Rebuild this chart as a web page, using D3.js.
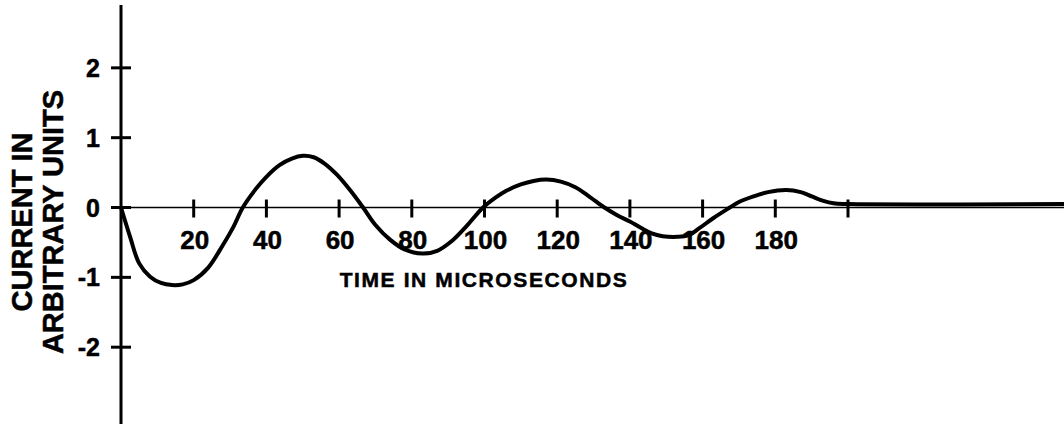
<!DOCTYPE html>
<html>
<head>
    <meta charset="utf-8">
    <style>
        body { margin: 0; background: #fff; }
        svg { display: block; font-family: 'Liberation Sans', Arial, sans-serif; font-weight: bold; }
        text { stroke: #000; stroke-width: 0.5px; }
    </style>
    <title>Current vs time</title>
</head>
<body>
    <svg width="1064" height="424"></svg>
<script src="https://d3js.org/d3.v7.min.js"></script>
<script>
    // time in microseconds, current in arbitrary units
    const times = [0, 2.5, 5, 8, 11, 14, 17, 20, 24, 28, 31, 33.5,
        37, 40, 43.7, 47, 50, 53, 56, 59.4, 63, 66.6,
        70, 74, 78, 83, 87, 91, 95, 99.6,
        103, 106, 110, 113.5, 117, 121, 125, 129, 133,
        136.5, 140, 143, 146, 149, 153, 156, 159, 163, 167.5,
        170, 174, 178, 183, 187, 190, 193, 196, 200, 259.5]
    const current = [0, -0.42, -0.8, -0.99, -1.08, -1.11, -1.1, -1.04, -0.86, -0.54, -0.27, 0,
        0.26, 0.44, 0.61, 0.7, 0.74, 0.72, 0.63, 0.47, 0.25, 0,
        -0.25, -0.46, -0.6, -0.66, -0.62, -0.48, -0.27, 0,
        0.14, 0.24, 0.33, 0.38, 0.4, 0.37, 0.29, 0.15, 0,
        -0.11, -0.2, -0.29, -0.37, -0.41, -0.42, -0.4, -0.3, -0.15, 0,
        0.08, 0.16, 0.22, 0.25, 0.22, 0.16, 0.1, 0.06, 0.05, 0.05]

    const xTicks = [20, 40, 60, 80, 100, 120, 140, 160, 180, 200]
    const xTickLabels = ['20', '40', '60', '80', '100', '120', '140', '160', '180', '']
    const yTicks = [-2, -1, 0, 1, 2]
    const yTickLabels = ['-2', '-1', '0', '1', '2']

    const width = 1064
    const height = 424
    const svg = d3.select('svg')

    const x = d3.scaleLinear().domain([0, 200]).range([121, 848])
    const y = d3.scaleLinear().domain([-3.1, 2.9]).range([424, 5])

    // horizontal axis line
    svg.append('line')
        .attr('x1', x(0)).attr('x2', width)
        .attr('y1', y(0)).attr('y2', y(0))
        .attr('stroke', '#000').attr('stroke-width', 1.6)

    // vertical axis line
    svg.append('line')
        .attr('x1', x(0)).attr('x2', x(0))
        .attr('y1', y(2.9)).attr('y2', height)
        .attr('stroke', '#000').attr('stroke-width', 3)

    // x ticks: short marks crossing the axis
    svg.append('g')
        .selectAll('line')
        .data(xTicks)
        .join('line')
        .attr('x1', d => x(d)).attr('x2', d => x(d))
        .attr('y1', y(0) - 8).attr('y2', y(0) + 10)
        .attr('stroke', '#000').attr('stroke-width', 3)

    svg.append('g')
        .selectAll('text')
        .data(xTicks)
        .join('text')
        .attr('x', d => x(d) + 1)
        .attr('y', 249)
        .attr('text-anchor', 'middle')
        .attr('font-size', 26)
        .text((d, i) => xTickLabels[i])

    // y ticks
    svg.append('g')
        .selectAll('line')
        .data(yTicks)
        .join('line')
        .attr('x1', x(0) - 10).attr('x2', x(0) + 10)
        .attr('y1', d => y(d)).attr('y2', d => y(d))
        .attr('stroke', '#000').attr('stroke-width', 3)

    svg.append('g')
        .selectAll('text')
        .data(yTicks)
        .join('text')
        .attr('x', 100)
        .attr('y', d => y(d) + 9)
        .attr('text-anchor', 'end')
        .attr('font-size', 25)
        .text((d, i) => yTickLabels[i])

    // the curve
    const line = d3.line()
        .x((d, i) => x(times[i]))
        .y(d => y(d))
        .curve(d3.curveCatmullRom.alpha(0.5))

    svg.append('path')
        .datum(current)
        .attr('d', line)
        .attr('fill', 'none')
        .attr('stroke', '#000')
        .attr('stroke-width', 4)

    // axis titles
    svg.append('text')
        .attr('x', 484)
        .attr('y', 287)
        .attr('text-anchor', 'middle')
        .attr('font-size', 21)
        .attr('letter-spacing', 1.6)
        .text('TIME IN MICROSECONDS')

    const yTitle = svg.append('text')
        .attr('transform', 'translate(32,222) rotate(-90)')
        .attr('text-anchor', 'middle')
        .attr('font-size', 29)
    yTitle.append('tspan').attr('x', 0).attr('y', 0).text('CURRENT IN')
    yTitle.append('tspan').attr('x', 0).attr('y', 31).text('ARBITRARY UNITS')
</script>
</body>
</html>
